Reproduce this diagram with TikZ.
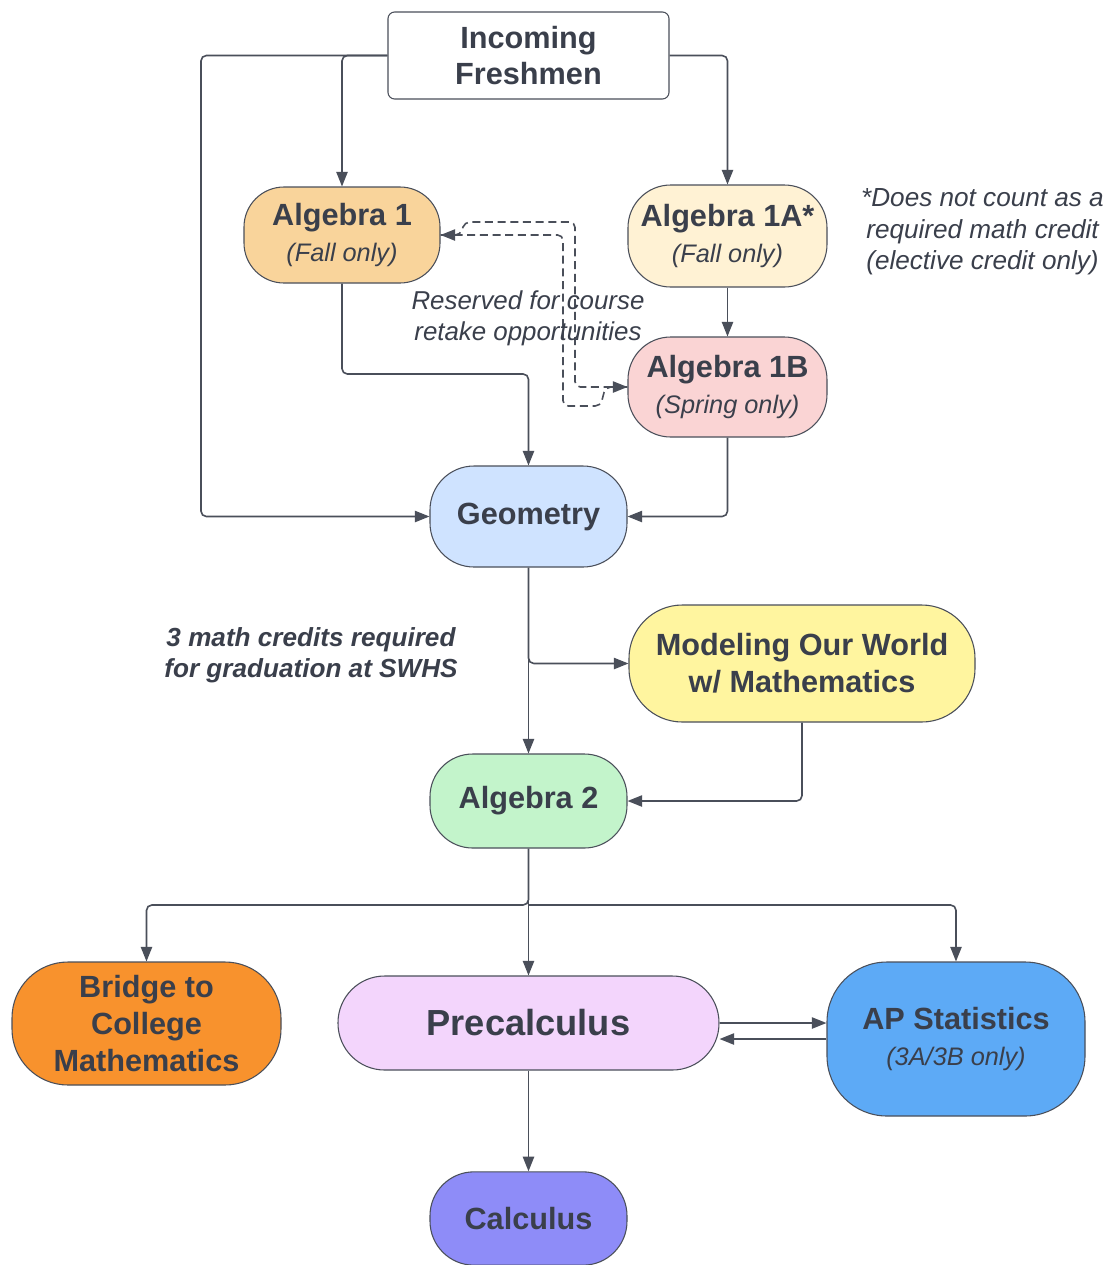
\documentclass[tikz,border=0pt]{standalone}
\usepackage{fontspec}
\setmainfont{Liberation Sans}
\usetikzlibrary{arrows.meta}
\definecolor{txt}{HTML}{3A3F4B}
\definecolor{edge}{HTML}{4A4F5A}
\definecolor{cAone}{HTML}{F9D49B}
\definecolor{cAoneA}{HTML}{FFF2D4}
\definecolor{cAoneB}{HTML}{FAD4D4}
\definecolor{cGeo}{HTML}{CFE3FF}
\definecolor{cMod}{HTML}{FFF59F}
\definecolor{cAtwo}{HTML}{C3F4CB}
\definecolor{cBri}{HTML}{F8922D}
\definecolor{cPre}{HTML}{F3D5FC}
\definecolor{cAps}{HTML}{5DAAF6}
\definecolor{cCal}{HTML}{8E8CF8}
\newcommand\mytitle{\bfseries\fontsize{23}{27.5}\selectfont}
\newcommand\mysub{\mdseries\itshape\fontsize{19}{27.5}\selectfont}
\begin{document}
\begin{tikzpicture}[x=0.75pt,y=-0.75pt,
  box/.style={draw=edge,line width=0.8pt,inner sep=0pt,align=center,text=txt,font=\mytitle},
  conn/.style={draw=edge,line width=1.2pt,rounded corners=4pt,-{Triangle[length=11pt,width=8.5pt]}},
  dconn/.style={conn,dash pattern=on 6pt off 3.5pt},
  note/.style={align=center,text=txt,inner sep=0pt}]
\useasboundingbox[fill=white] (0,0) rectangle (1107,1265);

\node[box,rounded corners=5pt,minimum width=210.75pt,minimum height=65.25pt] (inc) at (528.5,55.5) {Incoming\\Freshmen};
\node[box,fill=cAone,rounded corners=30pt,minimum width=147pt,minimum height=72pt] (a1) at (342,235) {Algebra 1\\\mysub (Fall only)};
\node[box,fill=cAoneA,rounded corners=32pt,minimum width=149.25pt,minimum height=76.5pt] (a1a) at (727.5,236) {Algebra 1A*\\\mysub (Fall only)};
\node[box,fill=cAoneB,rounded corners=32pt,minimum width=149.25pt,minimum height=75pt] (a1b) at (727.5,387) {Algebra 1B\\\mysub (Spring only)};
\node[box,fill=cGeo,rounded corners=33pt,minimum width=147.75pt,minimum height=75.75pt] (geo) at (528.5,516.5) {Geometry};
\node[box,fill=cMod,rounded corners=40pt,minimum width=259.5pt,minimum height=87.75pt] (mod) at (802,663.5) {Modeling Our World\\w/ Mathematics};
\node[box,fill=cAtwo,rounded corners=32pt,minimum width=147.75pt,minimum height=70.5pt] (a2) at (528.5,801) {Algebra 2};
\node[box,fill=cBri,rounded corners=42pt,minimum width=201.75pt,minimum height=92.25pt] (bri) at (146.5,1023.5) {Bridge to\\College\\Mathematics};
\node[box,fill=cPre,rounded corners=35pt,minimum width=285.75pt,minimum height=70.5pt,font=\bfseries\fontsize{27.2}{30}\selectfont] (pre) at (528.5,1023) {Precalculus};
\node[box,fill=cAps,rounded corners=45pt,minimum width=193.5pt,minimum height=115.5pt] (aps) at (956,1039) {AP Statistics\\\mysub (3A/3B only)};
\node[box,fill=cCal,rounded corners=33pt,minimum width=147.75pt,minimum height=70pt] (cal) at (528.5,1218.5) {Calculus};

\node[note,font=\itshape\fontsize{19.6}{23.6}\selectfont] (n1) at (982.5,232) {*Does not count as a\\required math credit\\(elective credit only)};
\node[note,font=\bfseries\itshape\fontsize{19.6}{23.3}\selectfont] (n2) at (311,655.5) {3 math credits required\\for graduation at SWHS};

% connectors
\coordinate (lft) at (201,516.5);
\draw[conn] (inc.west) -| (a1.north);
\draw[conn] (inc.west) -| (lft) -- (geo.west);
\draw[conn] (inc.east) -| (a1a.north);
\draw[conn] (a1a.south) -- (a1b.north);
\coordinate (j1) at (528.5,374);
\draw[conn] (a1.south) |- (j1) -- (geo.north);
\draw[conn] (a1b.south) |- (geo.east);

% dashed retake paths
\draw[dconn] (a1b.west) -- ++(-22,0) -- ++(-5,19) -- (563,406) -- (563,235) -- (a1.east);
\draw[dconn] (a1.east) -- ++(20,0) -- ++(4,-13) -- (575,222) -- (575,387) -- (a1b.west);
\node[note,font=\itshape\fontsize{19.4}{23.3}\selectfont] (n3) at (528,318) {Reserved for course\\retake opportunities};

\draw[conn] (geo.south) -- (a2.north);
\draw[conn] (geo.south) |- (mod.west);
\draw[conn] (mod.south) |- (a2.east);

\coordinate (j3) at (528.5,905);
\draw[conn] (a2.south) -- (j3) -| (bri.north);
\draw[conn] (j3) -| (aps.north);
\draw[conn] (a2.south) -- (pre.north);

\draw[conn] (pre.east) -- (pre.east -| aps.west);
\draw[conn] (aps.west) -- (aps.west -| pre.east);
\draw[conn] (pre.south) -- (cal.north);
\end{tikzpicture}
\end{document}
